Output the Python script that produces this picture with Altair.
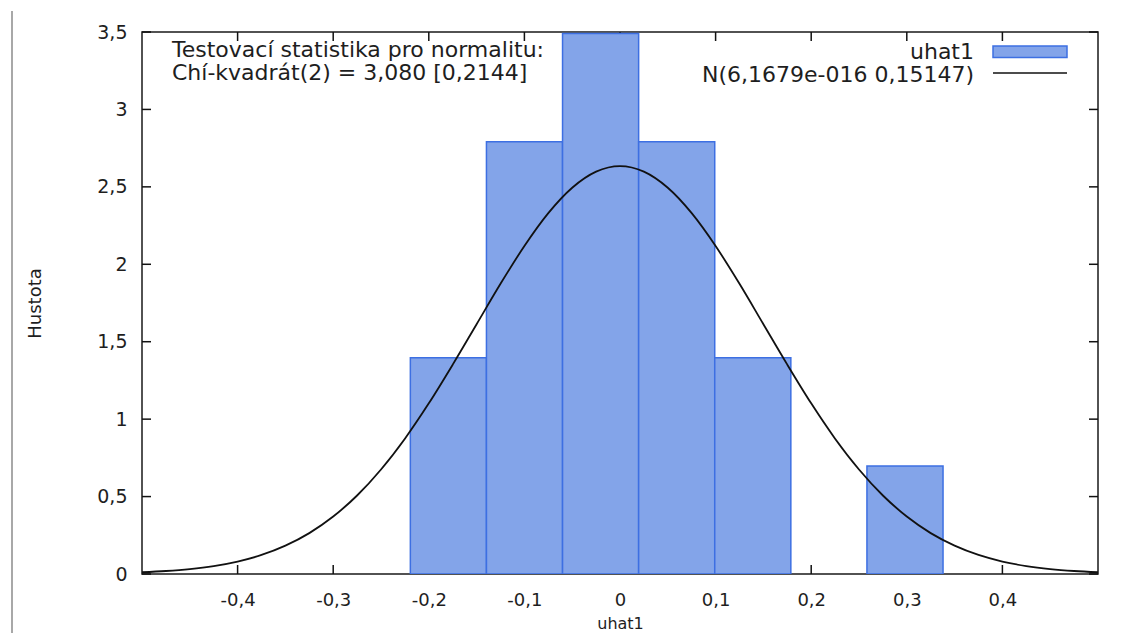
import altair as alt
import pandas as pd

# ---- data ----
bin_left = [-0.2193, -0.1397, -0.0601, 0.0195, 0.0991, 0.2583]
bin_right = [-0.1397, -0.0601, 0.0195, 0.0991, 0.1787, 0.3379]
density = [1.396, 2.792, 3.490, 2.792, 1.396, 0.698]

curve_x = [-0.5, -0.475, -0.45, -0.425, -0.4, -0.375, -0.35, -0.325, -0.3, -0.275,
           -0.25, -0.225, -0.2, -0.175, -0.15, -0.125, -0.1, -0.075, -0.05, -0.025,
           0.0, 0.025, 0.05, 0.075, 0.1, 0.125, 0.15, 0.175, 0.2, 0.225,
           0.25, 0.275, 0.3, 0.325, 0.35, 0.375, 0.4, 0.425, 0.45, 0.475, 0.5]
curve_y = [0.0113, 0.0193, 0.0319, 0.0514, 0.0806, 0.123, 0.183, 0.264, 0.371, 0.507,
           0.675, 0.874, 1.102, 1.352, 1.613, 1.874, 2.118, 2.330, 2.494, 2.598,
           2.634, 2.598, 2.494, 2.330, 2.118, 1.874, 1.613, 1.352, 1.102, 0.874,
           0.675, 0.507, 0.371, 0.264, 0.183, 0.123, 0.0806, 0.0514, 0.0319, 0.0193, 0.0113]

x_ticks = [-0.4, -0.3, -0.2, -0.1, 0.0, 0.1, 0.2, 0.3, 0.4]
y_ticks = [0.0, 0.5, 1.0, 1.5, 2.0, 2.5, 3.0, 3.5]

annotation_lines = ["Testovací statistika pro normalitu:", "Chí-kvadrát(2) = 3,080 [0,2144]"]
legend_labels = ["uhat1", "N(6,1679e-016 0,15147)"]

W, H = 956, 542
FONT = "DejaVu Sans"
TXT = "#1e1e1e"

bars_df = pd.DataFrame({"x0": bin_left, "x1": bin_right, "d": density})
curve_df = pd.DataFrame({"x": curve_x, "y": curve_y})
xt_df = pd.DataFrame({"v": x_ticks})
yt_df = pd.DataFrame({"v": y_ticks})

xscale = alt.Scale(domain=[-0.5, 0.5], nice=False, zero=False)
yscale = alt.Scale(domain=[0, 3.5], nice=False)

xlabel = ("datum.value < 0 ? '-' + replace(format(-datum.value, '.1~f'), '.', ',') "
          ": replace(format(datum.value, '.1~f'), '.', ',')")

x_axis = alt.Axis(values=x_ticks, labelExpr=xlabel, ticks=False, domain=False, grid=False,
                  labelPadding=17, labelFont=FONT, labelFontSize=18, labelColor=TXT,
                  labelFlush=False, labelOverlap=False,
                  title="uhat1", titleFont=FONT, titleFontSize=16, titleFontWeight="normal",
                  titleColor=TXT, titleX=478, titleY=54, titleBaseline="alphabetic",
                  titleAlign="center")
y_axis = alt.Axis(values=y_ticks, labelExpr=xlabel, ticks=False, domain=False, grid=False,
                  labelPadding=15, labelFont=FONT, labelFontSize=19, labelColor=TXT,
                  labelFlush=False, labelOverlap=False,
                  title="Hustota", titleFont=FONT, titleFontSize=18, titleFontWeight="normal",
                  titleColor=TXT, titleAngle=270, titleX=-98, titleY=271,
                  titleBaseline="bottom", titleAlign="center")

# inward ticks (bottom/top/left/right)
tick_b = alt.Chart(xt_df).mark_rule(color="#111", strokeWidth=1.5).encode(
    x=alt.X("v:Q", scale=xscale, axis=x_axis), y=alt.value(H), y2=alt.value(H - 9))
tick_t = alt.Chart(xt_df).mark_rule(color="#111", strokeWidth=1.5).encode(
    x=alt.X("v:Q", scale=xscale), y=alt.value(0), y2=alt.value(9))
tick_l = alt.Chart(yt_df).mark_rule(color="#111", strokeWidth=1.5).encode(
    y=alt.Y("v:Q", scale=yscale, axis=y_axis), x=alt.value(0), x2=alt.value(9))
tick_r = alt.Chart(yt_df).mark_rule(color="#111", strokeWidth=1.5).encode(
    y=alt.Y("v:Q", scale=yscale), x=alt.value(W - 9), x2=alt.value(W))

bars = alt.Chart(bars_df).mark_rect(fill="#83a4e9", stroke="#3d6fe2", strokeWidth=1.5, clip=True).encode(
    x=alt.X("x0:Q", scale=xscale), x2="x1:Q",
    y=alt.Y("d:Q", scale=yscale), y2=alt.datum(0))

curve = alt.Chart(curve_df).mark_line(color="#111", strokeWidth=1.8, interpolate="monotone").encode(
    x=alt.X("x:Q", scale=xscale), y=alt.Y("y:Q", scale=yscale))

ann_df = pd.DataFrame({"t": annotation_lines, "yy": [25, 48]})
ann = alt.Chart(ann_df).mark_text(align="left", baseline="alphabetic", font=FONT, fontSize=22,
                                  color=TXT).encode(
    x=alt.value(30), y=alt.Y("yy:Q", scale=None), text="t:N")

leg_df = pd.DataFrame({"t": legend_labels, "yy": [27, 50]})
leg_text = alt.Chart(leg_df).mark_text(align="right", baseline="alphabetic", font=FONT, fontSize=22,
                                       color=TXT).encode(
    x=alt.value(832), y=alt.Y("yy:Q", scale=None), text="t:N")
one = pd.DataFrame({"k": [0]})
leg_rect = alt.Chart(one).mark_rect(fill="#83a4e9", stroke="#3d6fe2", strokeWidth=1.5).encode(
    x=alt.value(851), x2=alt.value(925), y=alt.value(14), y2=alt.value(25.5))
leg_line = alt.Chart(one).mark_rule(color="#111", strokeWidth=1.5).encode(
    x=alt.value(851), x2=alt.value(925), y=alt.value(41))

side_line = alt.Chart(one).mark_rule(color="#a8a8a8", strokeWidth=2).encode(
    x=alt.value(-130), y=alt.value(-21), y2=alt.value(601))

chart = alt.layer(
    tick_b, tick_t, tick_l, tick_r, bars, curve, ann, leg_rect, leg_line, leg_text, side_line
).properties(
    width=W, height=H,
    autosize=alt.AutoSizeParams(type="none"),
    padding={"left": 142, "top": 32, "right": 33, "bottom": 59},
    background="white",
).configure_view(stroke="#1a1a1a", strokeWidth=1.5)

chart.save("out.html", embed_options={"renderer": "svg", "actions": False})
